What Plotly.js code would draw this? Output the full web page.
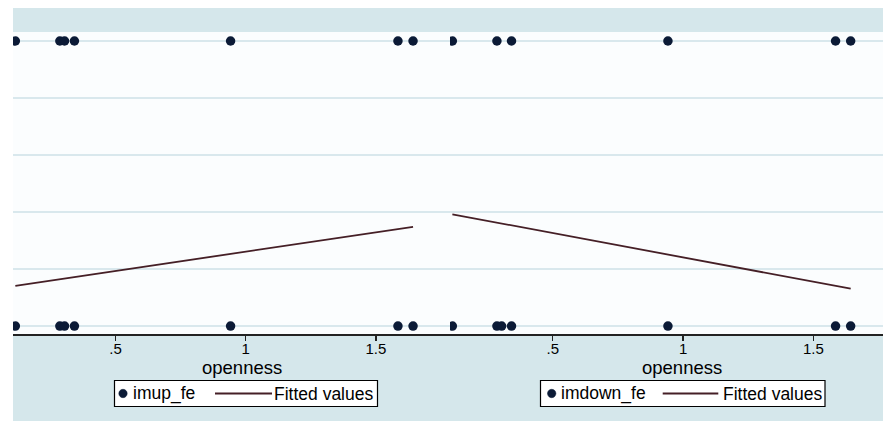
<!DOCTYPE html>
<html>
<head>
<meta charset="utf-8">
<script src="https://cdn.plot.ly/plotly-3.0.1.min.js"></script>
<style>html,body{margin:0;padding:0;background:#d5e7eb;overflow:hidden;}#chart{width:883px;height:421px;}</style>
</head>
<body>
<div id="chart"></div>
<script>
// ---- data ----
var opennessUp = [0.115, 0.286, 0.304, 0.342, 0.942, 1.585, 1.643, 0.115, 0.286, 0.304, 0.342, 0.942, 1.585, 1.643];
var imupFe = [1, 1, 1, 1, 1, 1, 1, 0, 0, 0, 0, 0, 0, 0];
var opennessDown = [0.115, 0.286, 0.342, 0.942, 1.585, 1.643, 0.115, 0.286, 0.304, 0.342, 0.942, 1.585, 1.643];
var imdownFe = [1, 1, 1, 1, 1, 1, 0, 0, 0, 0, 0, 0, 0];
var fitX = [0.115, 1.643];
var fitUp = [0.141, 0.348];
var fitDown = [0.392, 0.131];
var tickVals = [0.5, 1, 1.5];
var tickText = ['.5', '1', '1.5'];
var xTitle = 'openness';
var legendUp = ['imup_fe', 'Fitted values'];
var legendDown = ['imdown_fe', 'Fitted values'];

// ---- styling ----
var W = 883, H = 421;
var ML = 13, MR = 0, MT = 32, MB = 87;
var PW = W - ML - MR, PH = H - MT - MB;
function px(x) { return (x - ML) / PW; }
function py(y) { return (H - MB - y) / PH; }
var split = (450 - ML) / PW;
var navy = '#0b1a36', maroon = '#451f26';
var bg = '#d5e7eb', plotbg = '#fbfdfe', grid = '#d9e8ed';
var FONT = 'Liberation Sans, Arial, sans-serif';

var traces = [
  {x: opennessUp, y: imupFe, type: 'scatter', mode: 'markers', xaxis: 'x', yaxis: 'y',
   marker: {color: navy, size: 9.5}, hoverinfo: 'skip'},
  {x: fitX, y: fitUp, type: 'scatter', mode: 'lines', xaxis: 'x', yaxis: 'y',
   line: {color: maroon, width: 1.8}, hoverinfo: 'skip'},
  {x: opennessDown, y: imdownFe, type: 'scatter', mode: 'markers', xaxis: 'x2', yaxis: 'y2',
   marker: {color: navy, size: 9.5}, hoverinfo: 'skip'},
  {x: fitX, y: fitDown, type: 'scatter', mode: 'lines', xaxis: 'x2', yaxis: 'y2',
   line: {color: maroon, width: 1.8}, hoverinfo: 'skip'}
];

function xax(domain, range) {
  return {domain: domain, range: range, showgrid: false, zeroline: false,
    showline: true, linecolor: '#222', linewidth: 2,
    ticks: 'outside', ticklen: 5, tickwidth: 1.5, tickcolor: '#222',
    tickvals: tickVals, ticktext: tickText, ticklabelstandoff: -5,
    tickfont: {family: FONT, size: 15, color: '#000'}, fixedrange: true};
}
function yax(anchor) {
  return {anchor: anchor, range: [-0.028, 1.0316], dtick: 0.2, tick0: 0,
    showgrid: true, gridcolor: grid, gridwidth: 1.5, zeroline: false,
    showticklabels: false, ticks: '', showline: false, fixedrange: true};
}

var shapes = [
  // white outer margins
  {type: 'rect', xref: 'paper', yref: 'paper', x0: px(0), x1: 1, y0: py(8), y1: py(0), fillcolor: '#fff', line: {width: 0}, layer: 'above'},
  {type: 'rect', xref: 'paper', yref: 'paper', x0: px(0), x1: px(13), y0: py(H), y1: py(0), fillcolor: '#fff', line: {width: 0}, layer: 'above'}
];
var annotations = [];

function legendBox(x0, x1, dotX, t1X, lineX0, lineX1, t2X, labels) {
  var yc = 393.5;
  shapes.push({type: 'rect', xref: 'paper', yref: 'paper', x0: px(x0), x1: px(x1), y0: py(406.5), y1: py(380.5),
    fillcolor: '#fff', line: {color: '#000', width: 1.2}, layer: 'above'});
  shapes.push({type: 'circle', xref: 'paper', yref: 'paper', xsizemode: 'pixel', ysizemode: 'pixel',
    xanchor: px(dotX), yanchor: py(yc), x0: -4.2, x1: 4.2, y0: -4.2, y1: 4.2,
    fillcolor: navy, line: {color: navy, width: 0.5}, layer: 'above'});
  shapes.push({type: 'line', xref: 'paper', yref: 'paper', x0: px(lineX0), x1: px(lineX1), y0: py(yc), y1: py(yc),
    line: {color: maroon, width: 1.8}, layer: 'above'});
  annotations.push({xref: 'paper', yref: 'paper', x: px(t1X), y: py(yc), xanchor: 'left', yanchor: 'middle',
    text: labels[0], showarrow: false, font: {family: FONT, size: 17.5, color: '#000'}, borderpad: 0});
  annotations.push({xref: 'paper', yref: 'paper', x: px(t2X), y: py(yc), xanchor: 'left', yanchor: 'middle',
    text: labels[1], showarrow: false, font: {family: FONT, size: 17.5, color: '#000'}, borderpad: 0});
}
legendBox(114.5, 377.5, 123, 131.5, 215, 272, 273, legendUp);
legendBox(540.5, 825, 551.7, 559.5, 662.7, 718.3, 721.5, legendDown);

annotations.push({xref: 'x', yref: 'paper', x: 0.985, y: py(367), xanchor: 'center', yanchor: 'middle',
  text: xTitle, showarrow: false, font: {family: FONT, size: 18.5, color: '#000'}});
annotations.push({xref: 'x2', yref: 'paper', x: 0.995, y: py(367), xanchor: 'center', yanchor: 'middle',
  text: xTitle, showarrow: false, font: {family: FONT, size: 18.5, color: '#000'}});

var layout = {
  width: W, height: H,
  margin: {l: ML, r: MR, t: MT, b: MB, pad: 0},
  paper_bgcolor: bg, plot_bgcolor: plotbg,
  showlegend: false,
  xaxis: xax([0, split], [0.106, 1.785]),
  xaxis2: xax([split, 1], [0.106, 1.767]),
  yaxis: yax('x'),
  yaxis2: yax('x2'),
  shapes: shapes,
  annotations: annotations,
  font: {family: FONT}
};
Plotly.newPlot('chart', traces, layout, {staticPlot: true, displayModeBar: false});
</script>
</body>
</html>
